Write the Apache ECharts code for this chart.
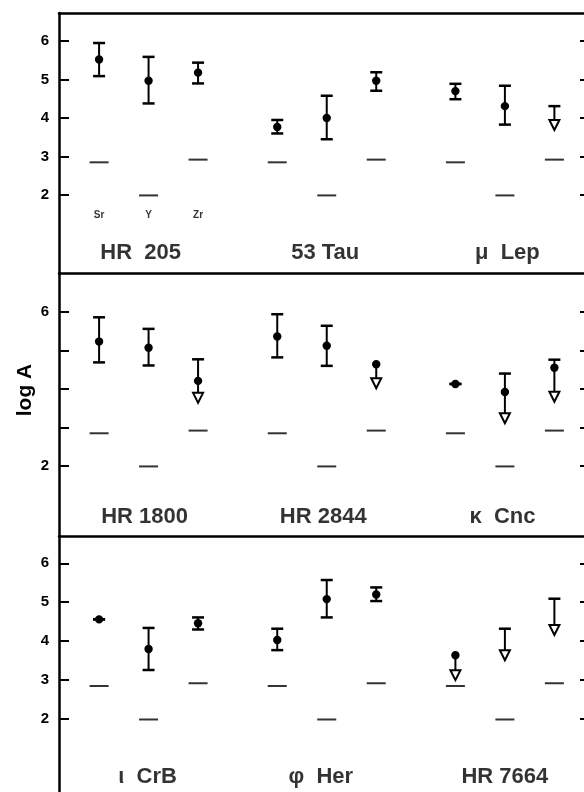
<!DOCTYPE html>
<html><head><meta charset="utf-8">
<script src="https://cdn.jsdelivr.net/npm/echarts@6/dist/echarts.min.js"></script>
<style>html,body{margin:0;padding:0;background:#fff}#c{width:584px;height:792px}</style>
</head><body><div id="c"></div>
<script>
// ---- data ----
const elements = ['Sr', 'Y', 'Zr'];
const solar = [2.85, 1.99, 2.92];
const tickValues = [2, 3, 4, 5, 6];

const stars1 = ['HR  205', '53 Tau', 'μ  Lep'];
const logA1  = [5.52, 4.97, 5.18, 3.77, 4.00, 4.97, 4.70, 4.31, null];
const upper1 = [5.95, 5.59, 5.44, 3.95, 4.58, 5.19, 4.89, 4.84, 4.31];
const lower1 = [5.09, 4.38, 4.90, 3.60, 3.45, 4.71, 4.49, 3.83, null];
const limit1 = [null, null, null, null, null, null, null, null, 3.69];
const labels1 = [2, 3, 4, 5, 6];

const stars2 = ['HR 1800', 'HR 2844', 'κ  Cnc'];
const logA2  = [5.23, 5.07, 4.21, 5.36, 5.12, 4.64, 4.13, 3.92, 4.55];
const upper2 = [5.86, 5.56, 4.77, 5.94, 5.64, null, 4.13, 4.40, 4.76];
const lower2 = [4.69, 4.61, null, 4.82, 4.60, null, 4.13, null, null];
const limit2 = [null, null, 3.64, null, null, 4.02, null, 3.11, 3.67];
const labels2 = [2, 6];

const stars3 = ['ι  CrB', 'φ  Her', 'HR 7664'];
const logA3  = [4.56, 3.80, 4.46, 4.03, 5.08, 5.20, 3.64, null, null];
const upper3 = [4.56, 4.34, 4.61, 4.32, 5.57, 5.38, null, 4.32, 5.09];
const lower3 = [4.56, 3.26, 4.30, 3.77, 4.61, 5.03, null, null, null];
const limit3 = [null, null, null, null, null, null, 3.00, 3.51, 4.16];
const labels3 = [2, 3, 4, 5, 6];

// ---- layout ----
const FONT = 'Liberation Sans';
const INK = '#000';
const STAR_STEP = 3.6;
const X_MIN = -0.81, X_MAX = 9.96;
function xpos(i) { return Math.floor(i / 3) * STAR_STEP + (i % 3); }

const panels = [
  {stars: stars1, logA: logA1, upper: upper1, lower: lower1, limit: limit1, labels: labels1,
   top: 13, height: 259, yMin: 0, yMax: 6.73, nameY: 0.49, nameX: [0.84, 0.97, 1.05], elemY: 1.48},
  {stars: stars2, logA: logA2, upper: upper2, lower: lower2, limit: limit2, labels: labels2,
   top: 273, height: 262, yMin: 0.21, yMax: 7.01, nameY: 0.68, nameX: [0.92, 0.93, 0.95]},
  {stars: stars3, logA: logA3, upper: upper3, lower: lower3, limit: limit3, labels: labels3,
   top: 536, height: 261, yMin: 0, yMax: 6.70, nameY: 0.51, nameX: [0.98, 0.88, 1.0]}
];

function makeRender(p) {
  return function (params, api) {
    const i = params.dataIndex;
    const x = api.coord([xpos(i), 0])[0];
    const Y = v => api.coord([0, v])[1];
    const v = p.logA[i], up = p.upper[i], lo = p.lower[i], tip = p.limit[i];
    const ch = [];
    const topV = up != null ? up : v;
    let botPx = tip != null ? Y(tip) - 9 : Y(lo != null ? lo : v);
    ch.push({type: 'line', shape: {x1: x, y1: Y(topV), x2: x, y2: botPx}, style: {stroke: INK, lineWidth: 2}});
    if (up != null) ch.push({type: 'line', shape: {x1: x - 6, y1: Y(up), x2: x + 6, y2: Y(up)}, style: {stroke: INK, lineWidth: 2.5}});
    if (lo != null) ch.push({type: 'line', shape: {x1: x - 6, y1: Y(lo), x2: x + 6, y2: Y(lo)}, style: {stroke: INK, lineWidth: 2.5}});
    if (tip != null) {
      const ty = Y(tip);
      ch.push({type: 'polygon', shape: {points: [[x - 5, ty - 10], [x + 5, ty - 10], [x, ty]]},
               style: {fill: '#fff', stroke: INK, lineWidth: 2}});
    }
    if (v != null) ch.push({type: 'circle', shape: {cx: x, cy: Y(v), r: 4.2}, style: {fill: INK}});
    return {type: 'group', children: ch};
  };
}

const textStyle = (size) => ({show: true, position: 'inside', formatter: '{b}', color: INK,
  fontSize: size, fontWeight: 'bold', fontFamily: FONT, textBorderWidth: 0, textBorderColor: 'transparent'});

const grid = [], xAxis = [], yAxis = [], series = [];
panels.forEach((p, g) => {
  grid.push({left: 59, width: 533, top: p.top, height: p.height, containLabel: false, outerBoundsMode: 'none'});
  xAxis.push({gridIndex: g, type: 'value', min: X_MIN, max: X_MAX, position: 'top',
    axisLine: {show: true, onZero: false, lineStyle: {color: INK, width: 2.5}},
    axisTick: {show: false}, axisLabel: {show: false}, splitLine: {show: false}});
  yAxis.push({gridIndex: g, type: 'value', min: p.yMin, max: p.yMax, position: 'left',
    axisLine: {show: true, onZero: false, lineStyle: {color: INK, width: 2.5}},
    axisTick: {show: true, inside: true, length: 10, customValues: tickValues, lineStyle: {color: INK, width: 2}},
    axisLabel: {show: true, customValues: p.labels, margin: 10, color: INK, fontSize: 15, fontWeight: 'bold', fontFamily: FONT},
    splitLine: {show: false}});
  yAxis.push({gridIndex: g, type: 'value', min: p.yMin, max: p.yMax, position: 'right',
    axisLine: {show: true, onZero: false, lineStyle: {color: INK, width: 2.5}},
    axisTick: {show: true, inside: true, length: 12, customValues: tickValues, lineStyle: {color: INK, width: 2}},
    axisLabel: {show: false}, splitLine: {show: false}});
  const yi = g * 2;
  // solar reference dashes
  series.push({type: 'scatter', xAxisIndex: g, yAxisIndex: yi, symbol: 'rect', symbolSize: [19, 2],
    itemStyle: {color: INK}, silent: true,
    data: p.logA.map((_, i) => [xpos(i), solar[i % 3]])});
  // error bars / limits / points
  series.push({type: 'custom', xAxisIndex: g, yAxisIndex: yi, renderItem: makeRender(p), silent: true,
    data: p.logA.map((v, i) => [xpos(i), v != null ? v : p.upper[i]])});
  // star names
  series.push({type: 'scatter', xAxisIndex: g, yAxisIndex: yi, symbolSize: 1, itemStyle: {color: 'transparent'}, silent: true,
    label: textStyle(22),
    data: p.stars.map((s, k) => ({name: s, value: [k * STAR_STEP + p.nameX[k], p.nameY]}))});
  if (p.elemY != null) {
    series.push({type: 'scatter', xAxisIndex: g, yAxisIndex: yi, symbolSize: 1, itemStyle: {color: 'transparent'}, silent: true,
      label: textStyle(10),
      data: elements.map((e, i) => ({name: e, value: [xpos(i), p.elemY]}))});
  }
});

const chart = echarts.init(document.getElementById('c'), null, {renderer: 'canvas'});
chart.setOption({
  backgroundColor: '#fff',
  animation: false,
  grid, xAxis, yAxis, series,
  graphic: [{type: 'text', x: 25, y: 390, rotation: Math.PI / 2,
    style: {text: 'log A', fill: INK, font: 'bold 21px "Liberation Sans"', textAlign: 'center', textVerticalAlign: 'middle'}}]
});
</script>
</body></html>
